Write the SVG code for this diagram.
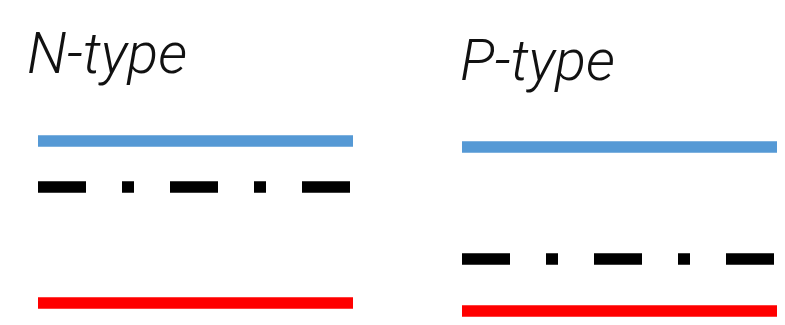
<svg xmlns="http://www.w3.org/2000/svg" width="785" height="325" viewBox="0 0 785 325">
<style>
.lbl{font-family:Roboto,"Liberation Sans",Arial,sans-serif;font-style:italic;font-weight:300;font-size:58px;fill:#111}
.blue{stroke:#5599d5;stroke-width:11.5;fill:none}
.red{stroke:#ff0000;stroke-width:11.5;fill:none}
.dash{stroke:#000;stroke-width:11.5;fill:none;stroke-dasharray:48 36 12 36}
</style>
<rect width="785" height="325" fill="#fff"/>
<g id="n-type">
<text class="lbl" x="27" y="73" textLength="160" lengthAdjust="spacingAndGlyphs">N-type</text>
<line class="blue" x1="38" y1="141" x2="353" y2="141"/>
<line class="dash" x1="38" y1="187" x2="350" y2="187"/>
<line class="red" x1="38" y1="303" x2="353" y2="303"/>
</g>
<g id="p-type">
<text class="lbl" x="460" y="80" textLength="155" lengthAdjust="spacingAndGlyphs">P-type</text>
<line class="blue" x1="462" y1="147" x2="777" y2="147"/>
<line class="dash" x1="462" y1="259" x2="774" y2="259"/>
<line class="red" x1="462" y1="311" x2="777" y2="311"/>
</g>
</svg>
